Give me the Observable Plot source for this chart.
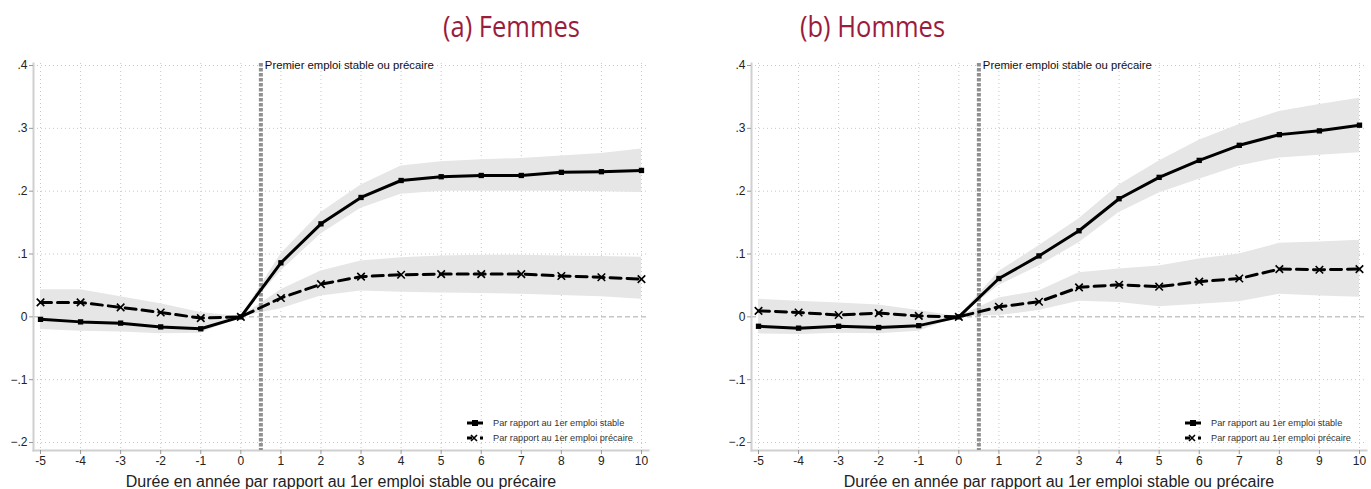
<!DOCTYPE html>
<html><head><meta charset="utf-8">
<script src="https://cdn.jsdelivr.net/npm/d3@7"></script>
<script src="https://cdn.jsdelivr.net/npm/@observablehq/plot@0.6"></script>
<style>
body{margin:0;background:#fff;width:1371px;height:489px;overflow:hidden;position:relative;font-family:"Liberation Sans",Arial,sans-serif}
.panel{position:absolute;top:0}
.title{position:absolute;top:11px;font-family:"Open Sans",sans-serif;font-size:30px;line-height:30px;color:#9b1c3c;transform:scaleX(.85);transform-origin:left top;white-space:nowrap}
</style></head><body>
<div id="p1" class="panel" style="left:0"></div>
<div id="p2" class="panel" style="left:718px"></div>
<div class="title" id="t1" style="left:443px"></div>
<div class="title" id="t2" style="left:800px"></div>
<script>
const years = [-5,-4,-3,-2,-1,0,1,2,3,4,5,6,7,8,9,10];
const yTicks = [-0.2,-0.1,0,0.1,0.2,0.3,0.4];
const seriesLabels = ["Par rapport au 1er emploi stable","Par rapport au 1er emploi précaire"];
const xTitle = "Durée en année par rapport au 1er emploi stable ou précaire";
const vLineLabel = "Premier emploi stable ou précaire";
const panelTitles = ["(a) Femmes","(b) Hommes"];

// Femmes
const femStable   = [-0.004,-0.008,-0.010,-0.016,-0.019,0,0.086,0.148,0.190,0.217,0.223,0.225,0.225,0.230,0.231,0.233];
const femStableLo = [-0.020,-0.023,-0.024,-0.027,-0.026,0,0.073,0.132,0.173,0.195,0.200,0.200,0.200,0.200,0.199,0.198];
const femStableHi = [0.012,0.008,0.004,-0.004,-0.010,0,0.100,0.166,0.210,0.240,0.247,0.250,0.252,0.256,0.260,0.267];
const femPrec     = [0.023,0.023,0.015,0.007,-0.002,0,0.030,0.052,0.064,0.067,0.068,0.068,0.068,0.065,0.063,0.060];
const femPrecLo   = [0.004,0.004,0.000,-0.006,-0.010,0,0.013,0.033,0.041,0.039,0.038,0.037,0.036,0.034,0.032,0.028];
const femPrecHi   = [0.043,0.043,0.032,0.021,0.007,0,0.043,0.073,0.089,0.094,0.097,0.098,0.098,0.097,0.096,0.095];
// Hommes
const homStable   = [-0.015,-0.018,-0.015,-0.017,-0.014,0,0.061,0.097,0.137,0.188,0.222,0.249,0.273,0.290,0.296,0.305];
const homStableLo = [-0.027,-0.028,-0.026,-0.027,-0.023,0,0.050,0.081,0.118,0.166,0.197,0.219,0.240,0.253,0.257,0.261];
const homStableHi = [-0.003,-0.006,-0.004,-0.006,-0.005,0,0.072,0.113,0.156,0.210,0.248,0.281,0.306,0.327,0.338,0.348];
const homPrec     = [0.0095,0.007,0.003,0.006,0.0015,0,0.016,0.024,0.047,0.051,0.048,0.056,0.061,0.076,0.075,0.076];
const homPrecLo   = [-0.008,-0.008,-0.010,-0.008,-0.007,0,0.002,0.010,0.025,0.023,0.016,0.020,0.024,0.036,0.033,0.031];
const homPrecHi   = [0.028,0.025,0.022,0.019,0.010,0,0.030,0.041,0.070,0.076,0.081,0.092,0.100,0.117,0.119,0.122];

document.getElementById("t1").textContent = panelTitles[0];
document.getElementById("t2").textContent = panelTitles[1];

const yFmt = d => d === 0 ? "0" : d3.format(".1f")(d).replace("0.", ".");

function makePanel(el, S, SLo, SHi, P, PLo, PHi, width, marginRight) {
  const rows = years.map((x,i) => ({x, s:S[i], slo:SLo[i], shi:SHi[i], p:P[i], plo:PLo[i], phi:PHi[i]}));
  const plot = Plot.plot({
    width, height: 489,
    marginTop: 63, marginBottom: 39, marginLeft: 33, marginRight,
    x: {domain: [-5.175, 10.175]},
    y: {domain: [-0.2127, 0.4032]},
    style: {fontFamily: "Liberation Sans, Arial, sans-serif", fontSize: "12px", color: "#222", background: "#fff", overflow: "visible"},
    marks: [
      Plot.gridX(years, {stroke: "#c8c8c8", strokeOpacity: 1, strokeDasharray: "1,3"}),
      Plot.gridY(yTicks.filter(d => d !== 0), {stroke: "#c8c8c8", strokeOpacity: 1, strokeDasharray: "1,3"}),
      Plot.ruleY([0], {stroke: "#aaa", strokeDasharray: "5,3"}),
      Plot.areaY(rows, {x: "x", y1: "slo", y2: "shi", fill: "#e6e6e6"}),
      Plot.areaY(rows, {x: "x", y1: "plo", y2: "phi", fill: "#e6e6e6"}),
      Plot.frame({anchor: "left", stroke: "#d0d0d0", strokeWidth: 2}),
      Plot.frame({anchor: "bottom", stroke: "#d0d0d0", strokeWidth: 2}),
      Plot.ruleX([0.5], {stroke: "#909090", strokeWidth: 4, strokeDasharray: "3.5,1.5"}),
      Plot.text([vLineLabel], {x: 0.5, frameAnchor: "top", lineAnchor: "middle", textAnchor: "start", dx: 4, dy: 2, fontSize: 11.3, fill: "#111"}),
      Plot.axisX({ticks: years, tickSize: 4, tickPadding: 2, stroke: "#999", label: null, tickFormat: d => String(d)}),
      Plot.axisY({ticks: yTicks, tickSize: 4, tickPadding: 2, stroke: "#999", label: null, tickFormat: yFmt}),
      Plot.text([xTitle], {frameAnchor: "bottom", lineAnchor: "middle", dy: 31, fontSize: 16, fill: "#222"}),
      Plot.lineY(rows, {x: "x", y: "s", stroke: "black", strokeWidth: 3}),
      Plot.lineY(rows, {x: "x", y: "p", stroke: "black", strokeWidth: 3, strokeDasharray: "11,6"}),
      Plot.dot(rows, {x: "x", y: "s", symbol: "square", fill: "black", r: 3}),
      Plot.dot(rows, {x: "x", y: "p", symbol: "times", stroke: "black", r: 3.5, strokeWidth: 1.6})
    ]
  });
  // legend
  const svg = d3.select(plot);
  const g = svg.append("g").attr("text-anchor", "start");
  const rowsY = [423, 438];
  g.append("line").attr("x1", 467).attr("x2", 483).attr("y1", rowsY[0]).attr("y2", rowsY[0]).attr("stroke", "black").attr("stroke-width", 3);
  g.append("rect").attr("x", 472).attr("y", rowsY[0]-3).attr("width", 6).attr("height", 6).attr("fill", "black");
  g.append("line").attr("x1", 467).attr("x2", 472).attr("y1", rowsY[1]).attr("y2", rowsY[1]).attr("stroke", "black").attr("stroke-width", 3);
  g.append("path").attr("d", `M${474-3},${rowsY[1]-3}L${474+3},${rowsY[1]+3}M${474-3},${rowsY[1]+3}L${474+3},${rowsY[1]-3}`).attr("stroke", "black").attr("stroke-width", 1.6);
  g.append("rect").attr("x", 480).attr("y", rowsY[1]-1.5).attr("width", 3).attr("height", 3).attr("fill", "black");
  seriesLabels.forEach((t, i) => {
    g.append("text").attr("x", 493).attr("y", rowsY[i]).attr("dy", "0.35em").attr("text-anchor", "start").attr("font-size", 9.2).attr("fill", "#333").text(t);
  });
  document.getElementById(el).appendChild(plot);
}

makePanel("p1", femStable, femStableLo, femStableHi, femPrec, femPrecLo, femPrecHi, 685, 37);
makePanel("p2", homStable, homStableLo, homStableHi, homPrec, homPrecLo, homPrecHi, 653, 5);
</script>
</body></html>
